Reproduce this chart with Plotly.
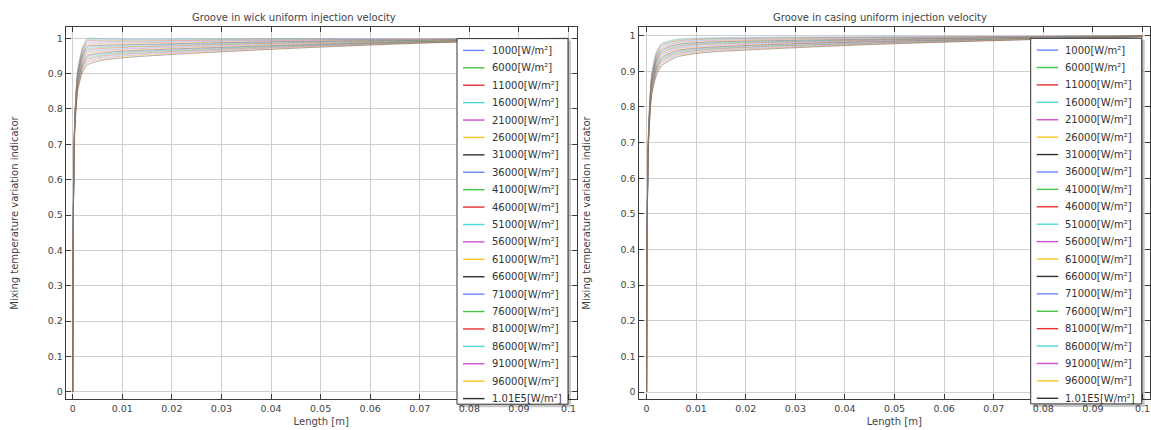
import plotly.graph_objects as go

W, H = 1151, 430

# ---------------- data ----------------
length_m = [0, 0.0001, 0.0004, 0.001, 0.002, 0.003, 0.006, 0.012, 0.025, 0.045, 0.07, 0.1]

heat_flux_labels = [
    "1000[W/m²]", "6000[W/m²]", "11000[W/m²]", "16000[W/m²]", "21000[W/m²]",
    "26000[W/m²]", "31000[W/m²]", "36000[W/m²]", "41000[W/m²]", "46000[W/m²]",
    "51000[W/m²]", "56000[W/m²]", "61000[W/m²]", "66000[W/m²]", "71000[W/m²]",
    "76000[W/m²]", "81000[W/m²]", "86000[W/m²]", "91000[W/m²]", "96000[W/m²]",
    "1.01E5[W/m²]",
]

wick_indicator = [
    [0, 0.460, 0.770, 0.910, 0.975, 1.000, 0.998, 0.997, 0.998, 0.999, 0.998, 1.000],
    [0, 0.459, 0.768, 0.907, 0.971, 0.996, 0.995, 0.995, 0.996, 0.998, 0.997, 1.000],
    [0, 0.458, 0.766, 0.904, 0.968, 0.993, 0.992, 0.992, 0.994, 0.996, 0.997, 1.000],
    [0, 0.457, 0.764, 0.901, 0.964, 0.989, 0.989, 0.990, 0.992, 0.995, 0.996, 1.000],
    [0, 0.456, 0.762, 0.898, 0.961, 0.985, 0.986, 0.987, 0.990, 0.994, 0.996, 0.999],
    [0, 0.455, 0.760, 0.895, 0.957, 0.981, 0.983, 0.985, 0.988, 0.992, 0.995, 0.999],
    [0, 0.454, 0.758, 0.892, 0.954, 0.978, 0.980, 0.982, 0.986, 0.991, 0.994, 0.999],
    [0, 0.453, 0.756, 0.889, 0.950, 0.974, 0.977, 0.980, 0.984, 0.990, 0.994, 0.999],
    [0, 0.452, 0.754, 0.886, 0.947, 0.970, 0.974, 0.977, 0.982, 0.988, 0.993, 0.999],
    [0, 0.451, 0.752, 0.883, 0.943, 0.966, 0.971, 0.975, 0.980, 0.987, 0.992, 0.999],
    [0, 0.450, 0.750, 0.880, 0.940, 0.963, 0.968, 0.972, 0.978, 0.985, 0.992, 0.999],
    [0, 0.449, 0.748, 0.877, 0.936, 0.959, 0.965, 0.970, 0.976, 0.984, 0.991, 0.999],
    [0, 0.448, 0.746, 0.874, 0.933, 0.955, 0.962, 0.967, 0.974, 0.983, 0.991, 0.999],
    [0, 0.447, 0.744, 0.871, 0.929, 0.951, 0.959, 0.965, 0.972, 0.981, 0.990, 0.999],
    [0, 0.446, 0.742, 0.868, 0.926, 0.948, 0.956, 0.962, 0.970, 0.980, 0.989, 0.999],
    [0, 0.445, 0.740, 0.865, 0.922, 0.944, 0.953, 0.960, 0.968, 0.979, 0.989, 0.998],
    [0, 0.444, 0.738, 0.862, 0.919, 0.940, 0.950, 0.957, 0.966, 0.977, 0.988, 0.998],
    [0, 0.443, 0.736, 0.859, 0.915, 0.936, 0.947, 0.955, 0.964, 0.976, 0.988, 0.998],
    [0, 0.442, 0.734, 0.856, 0.912, 0.933, 0.944, 0.952, 0.962, 0.975, 0.987, 0.998],
    [0, 0.441, 0.732, 0.853, 0.908, 0.929, 0.941, 0.950, 0.960, 0.973, 0.987, 0.998],
    [0, 0.440, 0.730, 0.850, 0.905, 0.925, 0.938, 0.947, 0.958, 0.972, 0.986, 0.998],
]

casing_indicator = [
    [0, 0.450, 0.740, 0.890, 0.955, 0.978, 0.990, 0.994, 0.996, 0.997, 0.998, 1.000],
    [0, 0.449, 0.738, 0.887, 0.952, 0.975, 0.988, 0.992, 0.994, 0.996, 0.997, 1.000],
    [0, 0.448, 0.736, 0.884, 0.948, 0.972, 0.985, 0.990, 0.993, 0.995, 0.997, 1.000],
    [0, 0.447, 0.734, 0.881, 0.945, 0.969, 0.983, 0.988, 0.991, 0.994, 0.996, 1.000],
    [0, 0.446, 0.732, 0.878, 0.942, 0.965, 0.980, 0.986, 0.989, 0.993, 0.996, 0.999],
    [0, 0.445, 0.730, 0.875, 0.939, 0.962, 0.978, 0.984, 0.988, 0.991, 0.995, 0.999],
    [0, 0.444, 0.728, 0.872, 0.935, 0.959, 0.975, 0.982, 0.986, 0.990, 0.994, 0.999],
    [0, 0.443, 0.726, 0.869, 0.932, 0.956, 0.973, 0.980, 0.984, 0.989, 0.994, 0.999],
    [0, 0.442, 0.724, 0.866, 0.929, 0.953, 0.970, 0.978, 0.983, 0.988, 0.993, 0.999],
    [0, 0.441, 0.722, 0.863, 0.926, 0.950, 0.968, 0.976, 0.981, 0.987, 0.993, 0.999],
    [0, 0.440, 0.720, 0.860, 0.922, 0.946, 0.965, 0.974, 0.980, 0.986, 0.992, 0.998],
    [0, 0.439, 0.718, 0.857, 0.919, 0.943, 0.963, 0.971, 0.978, 0.985, 0.991, 0.998],
    [0, 0.438, 0.716, 0.854, 0.916, 0.940, 0.960, 0.969, 0.976, 0.984, 0.991, 0.998],
    [0, 0.437, 0.714, 0.851, 0.913, 0.937, 0.958, 0.967, 0.975, 0.983, 0.990, 0.998],
    [0, 0.436, 0.712, 0.848, 0.909, 0.934, 0.955, 0.965, 0.973, 0.982, 0.990, 0.998],
    [0, 0.435, 0.710, 0.845, 0.906, 0.931, 0.953, 0.963, 0.971, 0.980, 0.989, 0.998],
    [0, 0.434, 0.708, 0.842, 0.903, 0.928, 0.950, 0.961, 0.970, 0.979, 0.988, 0.997],
    [0, 0.433, 0.706, 0.839, 0.900, 0.925, 0.948, 0.959, 0.968, 0.978, 0.988, 0.997],
    [0, 0.432, 0.704, 0.836, 0.896, 0.921, 0.945, 0.957, 0.966, 0.977, 0.987, 0.997],
    [0, 0.431, 0.702, 0.833, 0.893, 0.918, 0.943, 0.955, 0.965, 0.976, 0.987, 0.997],
    [0, 0.430, 0.700, 0.830, 0.890, 0.915, 0.940, 0.953, 0.963, 0.975, 0.986, 0.997],
]

palette = ["#6f86ff", "#44c444", "#e8302f", "#4ed8d8", "#d04fd0", "#ffc21a", "#303030"]

panel_titles = ["Groove in wick uniform injection velocity",
                "Groove in casing uniform injection velocity"]
x_title = "Length [m]"
y_title = "Mixing temperature variation indicator"

# ---------------- figure ----------------
FONT = "DejaVu Sans"
fig = go.Figure()


def px_x(p):
    return p / W


def px_y(p):
    return 1 - p / H


for panel, (data, xa, ya) in enumerate([(wick_indicator, "x", "y"), (casing_indicator, "x2", "y2")]):
    for i, ys in enumerate(data):
        fig.add_trace(go.Scatter(
            x=length_m, y=ys, mode="lines", xaxis=xa, yaxis=ya,
            name=heat_flux_labels[i], showlegend=False,
            line=dict(color=palette[i % 7], width=0.7, shape="spline", smoothing=0.6),
            opacity=0.55, hoverinfo="skip",
        ))

axis_common = dict(
    showgrid=True, gridcolor="#cfcfcf", gridwidth=1.3, zeroline=False,
    showline=True, linecolor="#3a3a3a", linewidth=1, mirror="allticks",
    ticks="inside", ticklen=5, tickcolor="#3a3a3a",
    tickfont=dict(family=FONT, size=9.5, color="#444"),
)

x_domains = [[px_x(65.7), px_x(576.7)], [px_x(638.5), px_x(1150)]]
y_dom = [px_y(399.3), px_y(26.7)]

fig.update_layout(
    width=W, height=H, margin=dict(l=0, r=0, t=0, b=0),
    paper_bgcolor="white", plot_bgcolor="white", showlegend=False,
    font=dict(family=FONT, size=10, color="#444"),
    xaxis=dict(domain=x_domains[0], range=[-0.00141, 0.10165], dtick=0.01, tick0=0,
               anchor="y", title=dict(text=x_title, standoff=5, font=dict(size=10)), **axis_common),
    yaxis=dict(domain=y_dom, range=[-0.0215, 1.0328], dtick=0.1, tick0=0, anchor="x",
               title=dict(text=y_title, standoff=27, font=dict(size=10)), **axis_common),
    xaxis2=dict(domain=x_domains[1], range=[-0.00163, 0.10151], dtick=0.01, tick0=0,
                anchor="y2", title=dict(text=x_title, standoff=5, font=dict(size=10)), **axis_common),
    yaxis2=dict(domain=y_dom, range=[-0.0205, 1.0253], dtick=0.1, tick0=0, anchor="x2",
                title=dict(text=y_title, standoff=27, font=dict(size=10)), **axis_common),
)

# panel titles
for cx, t in zip([293.5, 880], panel_titles):
    fig.add_annotation(x=px_x(cx), y=px_y(17), xref="paper", yref="paper", text=t,
                       showarrow=False, xanchor="center", yanchor="middle",
                       font=dict(family=FONT, size=10, color="#444"))


# legends drawn as boxes
def draw_legend(left, top):
    step = 17.41
    first = top + 11.8
    last = first + step * (len(heat_flux_labels) - 1)
    bottom = last + 5.6
    width = 111
    fig.add_shape(type="rect", xref="paper", yref="paper", layer="above",
                  x0=px_x(left + 2), x1=px_x(left + width + 3), y0=px_y(bottom + 3), y1=px_y(top + 2),
                  fillcolor="rgba(0,0,0,0.22)", line=dict(width=0))
    fig.add_shape(type="rect", xref="paper", yref="paper", layer="above",
                  x0=px_x(left), x1=px_x(left + width), y0=px_y(bottom), y1=px_y(top),
                  fillcolor="white", line=dict(color="#333", width=1))
    for i, lab in enumerate(heat_flux_labels):
        yy = first + step * i
        fig.add_shape(type="line", xref="paper", yref="paper", layer="above",
                      x0=px_x(left + 6), x1=px_x(left + 27.5), y0=px_y(yy), y1=px_y(yy),
                      line=dict(color=palette[i % 7], width=1.4))
        fig.add_annotation(x=px_x(left + 32.5), y=px_y(yy), xref="paper", yref="paper",
                           text=lab, showarrow=False, xanchor="left", yanchor="middle",
                           font=dict(family=FONT, size=10, color="#333"))


draw_legend(457, 38.6)
draw_legend(1030.7, 38.3)

fig.write_html("out.html", config={"displayModeBar": False},
               post_script="document.body.style.margin='0';")
